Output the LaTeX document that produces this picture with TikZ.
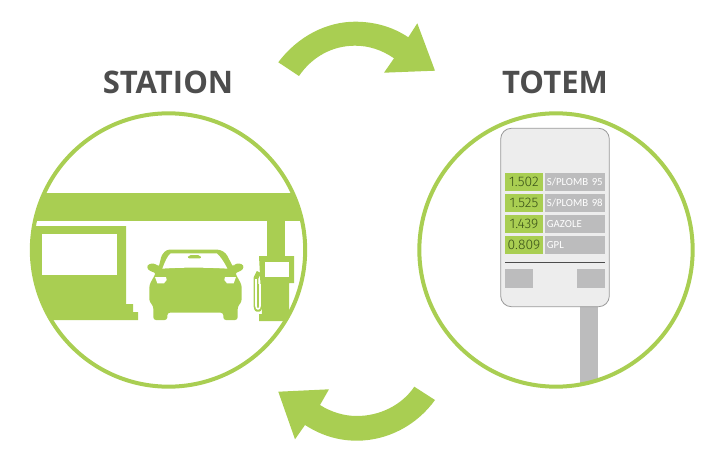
\documentclass[tikz,border=0pt]{standalone}
\usepackage{fontspec}
\setmainfont{Open Sans}
\newfontfamily\lcdfont{Fira Sans Light}
\newfontfamily\fuelfont{Carlito}
\definecolor{leaf}{HTML}{A9CE52}
\definecolor{panelgray}{HTML}{BCBCBD}
\definecolor{titlegray}{HTML}{4D4D4D}
\definecolor{lcdgreen}{HTML}{3A5218}
\tikzset{
  title/.style={font=\fontsize{23.3}{23}\selectfont\bfseries,text=titlegray,inner sep=0pt},
  ring/.style={circle,draw=leaf,line width=3pt,minimum size=205pt,inner sep=0pt},
  price/.style={fill=leaf,text=lcdgreen,minimum width=28pt,minimum height=13.8pt,inner sep=0pt,font=\lcdfont\fontsize{10.4}{10}\selectfont},
  fuel/.style={fill=panelgray,text=white,minimum width=45.5pt,minimum height=13.8pt,inner sep=0pt,text width=42pt,align=left,font=\fuelfont\fontsize{8.1}{8}\selectfont},
  keypad/.style={fill=panelgray,minimum width=20.8pt,minimum height=14pt,inner sep=0pt}
}
\begin{document}
\begin{tikzpicture}[x=0.75pt,y=-0.75pt]
\useasboundingbox (0,0) rectangle (718,460);
% arrows
\fill[leaf] (278.3,62.3) .. controls (298,36) and (327,21.7) .. (355,21.7)
  .. controls (375,21.7) and (393,27) .. (408.3,37.3)
  -- (417.3,23.3) -- (435,70.7) -- (384,72.7) -- (394,58.3)
  .. controls (382,50) and (369,45.7) .. (355,45.7)
  .. controls (332,45.7) and (312,57) .. (299,76) -- cycle;
\fill[leaf] (435,400) .. controls (417,425) and (388,440.7) .. (356.7,440.7)
  .. controls (336,440.7) and (319,434) .. (305,425)
  -- (295,439.3) -- (278.3,391.7) -- (329,389.3) -- (320,405)
  .. controls (331,412) and (344,416) .. (356.7,416)
  .. controls (380,416) and (402,405) .. (414.3,386.7) -- cycle;
% titles
\node[title] (stationtitle) at (168,82) {STATION};
\node[title] (totemtitle) at (555,82) {TOTEM};
% station
\begin{scope}
  \clip (168.5,250) circle (137);
  \fill[leaf] (20,193) rectangle (320,221);
  \fill[leaf] (267,221) rectangle (285,258);
  \fill[leaf] (20,226) -- (126,226) -- (126,304) -- (133,304) -- (133,312) -- (138,312) -- (138,320) -- (20,320) -- cycle;
  \fill[white] (42,234) rectangle (117,275);
  \fill[leaf] (259,256) -- (294,256) -- (294,283) -- (289,283) -- (289,314) -- (320,314) -- (320,321) -- (259,321) -- (259,314) -- (262,314) -- cycle;
  \fill[white] (265,262) rectangle (289,277);
  \draw[leaf,line width=3.6pt,line join=round] (259,272) -- (256,278) -- (256,306) .. controls (256,311) and (260,311) .. (260,306) -- (260,284);
  \draw[white,line width=1.2pt,line join=round] (256,279) -- (256,306) .. controls (256,310) and (260,310) .. (260,306) -- (260,284);
\end{scope}
\node[ring] (stationring) at (168.5,250) {};
% car
\begin{scope}[shift={(20,170)},x=0.25pt,y=-0.25pt]
  \fill[leaf,rounded corners=2pt] (440,239) -- (600,239) -- (618,250) -- (640,292) -- (642,282) -- (665,280) -- (673,292) -- (662,304) -- (645,308) -- (665,345) -- (665,395) -- (653,410) -- (653,450) -- (610,450) -- (610,428) -- (442,428) -- (442,450) -- (400,450) -- (400,408) -- (388,395) -- (388,345) -- (408,308) -- (390,304) -- (379,292) -- (388,280) -- (410,282) -- (416,292) -- (425,255) -- cycle;
  \fill[white] (427,296) .. controls (435,275) and (442,258) .. (452,250) -- (590,250) .. controls (600,258) and (612,275) .. (622,296) .. controls (560,292) and (480,292) .. (427,296) -- cycle;
  \fill[leaf,rounded corners=1.5pt] (502,265) -- (506,255) -- (540,255) -- (545,265) -- cycle;
  \fill[white] (405,321) -- (438,321) -- (440,330) -- (432,340) -- (412,340) -- cycle;
  \fill[white] (648,321) -- (615,321) -- (613,330) -- (621,340) -- (641,340) -- cycle;
\end{scope}
% totem
\begin{scope}
  \clip (556,250) circle (137);
  \fill[panelgray] (580,300) rectangle (598,400);
\end{scope}
\node[ring] (totemring) at (556,250) {};
\draw[fill=black!7,draw=black!40,line width=0.6pt,rounded corners=8pt] (500.7,128.3) rectangle (609.3,306.7);
\node[price,anchor=west] (price95) at (505,181.8) {1.502};
\node[price,anchor=west] (price98) at (505,203.2) {1.525};
\node[price,anchor=west] (pricegazole) at (505,224.2) {1.439};
\node[price,anchor=west] (pricegpl) at (505,244.8) {0.809};
\node[fuel,anchor=west] (fuel95) at (544.3,181.8) {S/PLOMB~95};
\node[fuel,anchor=west] (fuel98) at (544.3,203.2) {S/PLOMB~98};
\node[fuel,anchor=west] (fuelgazole) at (544.3,224.2) {GAZOLE};
\node[fuel,anchor=west] (fuelgpl) at (544.3,244.8) {GPL};
\draw[black!70,line width=0.4pt] (505,262.3) -- (605,262.3);
\node[keypad,anchor=north west] (keyleft) at (505,269) {};
\node[keypad,anchor=north east] (keyright) at (605,269) {};
\end{tikzpicture}
\end{document}
